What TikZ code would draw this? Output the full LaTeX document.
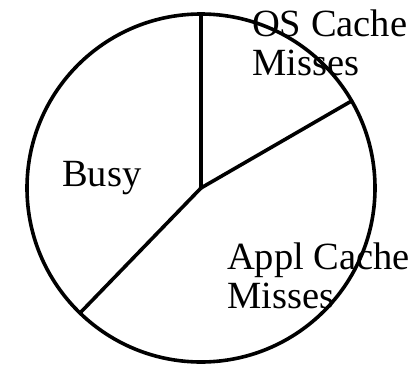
\documentclass[tikz,border=0pt]{standalone}
\usepackage{fontspec}
\setmainfont{Liberation Serif}
\begin{document}
\begin{tikzpicture}[x=1pt,y=-1pt,
    rim/.style={line width=3.6pt},
    spoke/.style={line width=3.6pt},
    lbl/.style={anchor=base west,inner sep=0pt,font=\fontsize{38.5}{39}\selectfont}]
  \useasboundingbox (0,0) rectangle (418,367);
  % pie centre and the three slice boundaries on the rim
  \coordinate (c) at (201,188);
  \coordinate (top) at (201,14);
  \coordinate (ur) at (351.5,101);
  \coordinate (ll) at (80,313);
  \draw[rim] (c) circle[radius=174];
  \draw[spoke] (c) -- (top);
  \draw[spoke] (c) -- (ur);
  \draw[spoke] (c) -- (ll);
  % slice labels
  \node[lbl] (os1) at (252,36) {OS Cache};
  \node[lbl] (os2) at (252,75) {Misses};
  \node[lbl] (busy) at (62,186) {Busy};
  \node[lbl] (ap1) at (227,269) {Appl Cache};
  \node[lbl] (ap2) at (227,308) {Misses};
\end{tikzpicture}
\end{document}
